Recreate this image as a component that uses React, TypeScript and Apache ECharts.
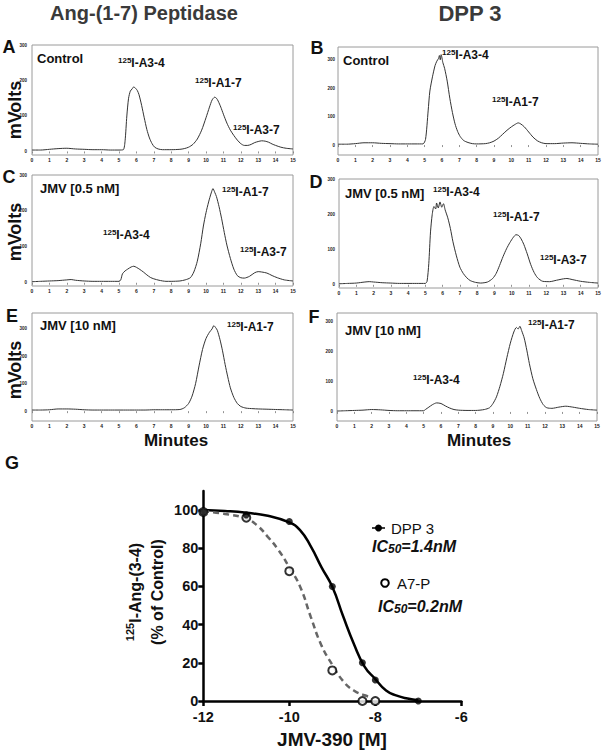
import React, { useEffect, useRef } from 'react';
import * as echarts from 'echarts';

// ---- Chromatogram traces: [minutes, mVolts] ----
const chromA = [[0,4],[0.5,4],[1,6],[1.5,8],[2,9],[2.5,7],[3,6],[3.5,5],[4,5],[4.5,4],[5,4],[5.25,5],[5.35,30],[5.45,100],[5.55,150],[5.65,170],[5.75,176],[5.85,182],[5.95,178],[6.05,172],[6.15,160],[6.3,130],[6.45,95],[6.6,62],[6.75,38],[6.9,22],[7.05,12],[7.25,7],[7.5,5],[8,5],[8.5,6],[8.75,8],[9,12],[9.25,20],[9.5,35],[9.75,60],[10,95],[10.2,125],[10.35,145],[10.5,153],[10.6,150],[10.7,142],[10.85,125],[11,105],[11.2,80],[11.4,60],[11.6,45],[11.8,32],[12,22],[12.2,17],[12.4,17],[12.6,20],[12.8,25],[13,28],[13.2,30],[13.4,29],[13.6,26],[13.8,21],[14,17],[14.3,12],[14.6,9],[15,7]];
const chromB = [[0,3],[0.5,3],[1,5],[1.5,8],[2,8],[2.5,6],[3,5],[3.5,4],[4,4],[4.5,4],[4.9,4],[5.05,20],[5.2,120],[5.3,190],[5.45,240],[5.6,280],[5.7,295],[5.8,305],[5.85,315],[5.9,300],[5.95,318],[6.05,290],[6.15,270],[6.3,225],[6.45,165],[6.6,115],[6.75,75],[6.9,48],[7.05,30],[7.25,16],[7.5,9],[7.75,5],[8,4],[8.5,5],[8.75,8],[9,14],[9.25,24],[9.5,38],[9.75,52],[10,64],[10.2,72],[10.4,78],[10.55,74],[10.75,64],[11,46],[11.25,28],[11.5,15],[11.75,8],[12,5],[12.5,5],[13,7],[13.5,8],[14,6],[14.5,4],[15,3]];
const chromC = [[0,3],[0.5,4],[1,5],[1.5,6],[2,8],[2.25,9],[2.5,7],[3,5],[3.5,4],[4,4],[4.5,4],[5,4],[5.1,8],[5.2,25],[5.35,33],[5.5,38],[5.7,44],[5.85,46],[6,43],[6.2,37],[6.4,30],[6.6,22],[6.8,15],[7,11],[7.3,7],[7.7,4],[8,4],[8.5,5],[8.8,8],[9.1,14],[9.3,30],[9.5,60],[9.7,110],[9.85,158],[10,195],[10.15,225],[10.3,250],[10.4,262],[10.5,252],[10.6,240],[10.75,212],[10.9,178],[11.05,140],[11.2,105],[11.4,68],[11.6,38],[11.8,20],[12,14],[12.2,13],[12.5,18],[12.8,28],[13,31],[13.2,30],[13.5,27],[13.8,20],[14.1,14],[14.5,8],[15,5]];
const chromD = [[0,3],[0.5,4],[1,5],[1.5,8],[1.75,9],[2,8],[2.5,6],[3,5],[3.5,4],[4,4],[4.5,4],[5,4],[5.1,10],[5.2,60],[5.3,150],[5.4,200],[5.5,222],[5.6,215],[5.65,232],[5.75,218],[5.85,235],[5.95,220],[6.05,230],[6.15,212],[6.3,190],[6.45,160],[6.6,122],[6.8,82],[7,50],[7.2,32],[7.4,20],[7.6,12],[7.9,7],[8.2,5],[8.6,8],[8.9,18],[9.1,32],[9.3,55],[9.5,80],[9.7,102],[9.9,120],[10.1,135],[10.25,142],[10.4,140],[10.55,130],[10.7,115],[10.9,88],[11.1,58],[11.3,35],[11.5,20],[11.8,10],[12.2,9],[12.6,13],[13,17],[13.2,18],[13.5,15],[14,10],[14.5,7],[15,5]];
const chromE = [[0,4],[0.5,4],[1,5],[1.5,8],[2,8],[2.5,7],[3,5],[3.5,4],[4,4],[4.5,4],[5,4],[5.5,4],[6,4],[6.5,4],[7,5],[7.5,5],[8,5],[8.5,6],[8.75,12],[9,28],[9.2,55],[9.4,100],[9.6,165],[9.8,225],[10,265],[10.2,288],[10.35,300],[10.45,312],[10.55,305],[10.65,295],[10.8,262],[10.95,220],[11.1,170],[11.25,125],[11.4,85],[11.6,50],[11.8,28],[12,17],[12.3,11],[12.7,9],[13,8],[13.5,7],[14,6],[14.5,5],[15,4]];
const chromF = [[0,3],[0.5,4],[1,5],[1.5,6],[2,8],[2.5,7],[3,5],[3.5,4],[4,4],[4.5,4],[5,4],[5.1,8],[5.3,16],[5.5,24],[5.75,30],[6,28],[6.25,20],[6.5,13],[6.75,8],[7,6],[7.5,5],[8,5],[8.5,8],[8.8,14],[9,28],[9.2,50],[9.4,85],[9.6,128],[9.8,180],[10,228],[10.2,265],[10.35,280],[10.45,275],[10.55,284],[10.65,270],[10.8,245],[10.95,205],[11.1,160],[11.3,110],[11.5,75],[11.7,45],[11.9,24],[12.1,14],[12.4,12],[12.8,16],[13.2,19],[13.6,16],[14,12],[14.5,8],[15,6]];
const chromYTicks = [0, 100, 200, 300];

// ---- Dose-response (panel G) ----
const dppCurveX = [-12,-11.5,-11,-10.5,-10,-9.75,-9.5,-9.25,-9,-8.75,-8.5,-8.25,-8,-7.75,-7.5,-7.25,-7];
const dppCurveY = [100,99.5,98.6,97,93.6,89.5,81,70,59.8,44.5,30,18,11.5,5.5,2.8,1.3,0.4];
const a7pCurveX = [-12,-11.5,-11,-10.75,-10.5,-10.25,-10,-9.75,-9.5,-9.25,-9,-8.75,-8.5,-8.25,-8.1];
const a7pCurveY = [99.5,98,95.5,92,86,79,70,60,44,29,19,10.5,5.5,3,2];
const dppPointX = [-12,-11,-10,-9,-8.3,-8,-7];
const dppPointY = [99,97.5,94,60,20,11,0];
const a7pPointX = [-12,-11,-10,-9,-8.3,-8];
const a7pPointY = [99,96,68,16,0,0];
const doseYTicks = [0,20,40,60,80,100];

const FONT = 'Arial, "Liberation Sans", Helvetica, sans-serif';
const zip = (xs: number[], ys: number[]) => xs.map((x, i) => [x, ys[i]]);

const panels = [
  { data: chromA, left: 32, top: 45, width: 261, height: 110, min: -10, max: 300, ylm: 5 },
  { data: chromB, left: 338, top: 47, width: 260, height: 108, min: -35, max: 345, ylm: 3 },
  { data: chromC, left: 32, top: 175, width: 261, height: 111, min: -9, max: 300, ylm: 5 },
  { data: chromD, left: 339, top: 179, width: 259, height: 109, min: -9, max: 300, ylm: 4 },
  { data: chromE, left: 32, top: 313, width: 261, height: 108, min: -36, max: 358, ylm: 5 },
  { data: chromF, left: 337, top: 313, width: 260, height: 108, min: -30, max: 328, ylm: 4 },
];

const peakRich = {
  s: { fontSize: 8, fontWeight: 'bold', fontFamily: FONT, fill: '#111', verticalAlign: 'top', lineHeight: 13 },
  m: { fontSize: 12, fontWeight: 'bold', fontFamily: FONT, fill: '#111', lineHeight: 13 },
};

function txt(x: number, y: number, text: string, o: any = {}) {
  const { rotation, align, ...rest } = o;
  const a = align || 'left';
  return {
    type: 'text', x, y, rotation: rotation || 0, z: 100,
    style: {
      text, fill: '#111', fontFamily: FONT, fontSize: 12, fontWeight: 'bold',
      align: a, textAlign: a, verticalAlign: 'middle', textVerticalAlign: 'middle',
      ...rest,
    },
  };
}
const peak = (x: number, y: number, name: string) => txt(x, y, `{s|125}{m|${name}}`, { rich: peakRich });

export default function App() {
  const ref = useRef<HTMLDivElement>(null);
  useEffect(() => {
    const chart = echarts.init(ref.current!, null, { renderer: 'svg' });
    const grid: any[] = [];
    const xAxis: any[] = [];
    const yAxis: any[] = [];
    const series: any[] = [];
    panels.forEach((p, i) => {
      grid.push({ left: p.left, top: p.top, width: p.width, height: p.height, show: true, borderColor: '#9a9a9a', borderWidth: 1, containLabel: false });
      xAxis.push({
        gridIndex: i, type: 'value', min: 0, max: 15, interval: 1,
        axisLine: { show: false }, splitLine: { show: false },
        axisTick: { show: true, length: 2, lineStyle: { color: '#777', width: 0.8 } },
        axisLabel: { fontSize: 5, fontWeight: 'bold', color: '#222', margin: 2, fontFamily: FONT },
      });
      yAxis.push({
        gridIndex: i, type: 'value', min: p.min, max: p.max,
        axisLine: { show: false }, splitLine: { show: false },
        axisTick: { show: false },
        axisLabel: { customValues: chromYTicks, fontSize: 4.5, fontWeight: 'bold', color: '#222', margin: p.ylm, fontFamily: FONT },
      });
      series.push({
        type: 'line', xAxisIndex: i, yAxisIndex: i, data: p.data, showSymbol: false, smooth: 0.25,
        lineStyle: { color: '#333', width: 1 }, silent: true,
      });
    });
    // panel G
    grid.push({ left: 203.3, top: 491, width: 258, height: 210, show: false });
    xAxis.push({
      gridIndex: 6, type: 'value', min: -12, max: -6, interval: 2,
      axisLine: { show: true, onZero: false, lineStyle: { color: '#000', width: 2.5 } },
      axisTick: { show: true, length: 5, lineStyle: { color: '#000', width: 2.5 } },
      splitLine: { show: false },
      axisLabel: { fontSize: 14.5, fontWeight: 'bold', color: '#111', margin: 8, fontFamily: FONT },
    });
    yAxis.push({
      gridIndex: 6, type: 'value', min: 0, max: 110,
      axisLine: { show: true, onZero: false, lineStyle: { color: '#000', width: 2.5 } },
      axisTick: { show: true, length: 5, customValues: doseYTicks, lineStyle: { color: '#000', width: 2.5 } },
      splitLine: { show: false },
      axisLabel: { customValues: doseYTicks, fontSize: 14.5, fontWeight: 'bold', color: '#111', margin: 5, fontFamily: FONT },
    });
    series.push(
      { type: 'line', xAxisIndex: 6, yAxisIndex: 6, data: zip(dppCurveX, dppCurveY), smooth: true, showSymbol: false, lineStyle: { color: '#000', width: 2.5 }, clip: false },
      { type: 'line', xAxisIndex: 6, yAxisIndex: 6, data: zip(a7pCurveX, a7pCurveY), smooth: true, showSymbol: false, lineStyle: { color: '#666', width: 2.5, type: [6, 4] }, clip: false },
      { type: 'scatter', xAxisIndex: 6, yAxisIndex: 6, data: zip(a7pPointX, a7pPointY), symbol: 'circle', symbolSize: 8, itemStyle: { color: '#fff', borderColor: '#000', borderWidth: 2 }, clip: false, z: 5 },
      { type: 'scatter', xAxisIndex: 6, yAxisIndex: 6, data: zip(dppPointX, dppPointY), symbol: 'circle', symbolSize: 7, itemStyle: { color: '#000' }, clip: false, z: 6 },
    );

    const subRich = {
      b: { fontSize: 16, fontWeight: 'bold', fontStyle: 'italic', fontFamily: FONT, fill: '#111', lineHeight: 18 },
      u: { fontSize: 12, fontWeight: 'bold', fontStyle: 'italic', fontFamily: FONT, fill: '#111', verticalAlign: 'bottom', lineHeight: 12 },
    };
    const yNameRich = {
      s: { fontSize: 11, fontWeight: 'bold', fontFamily: FONT, fill: '#111', verticalAlign: 'top', lineHeight: 22 },
      m: { fontSize: 16, fontWeight: 'bold', fontFamily: FONT, fill: '#111', lineHeight: 22 },
    };

    const graphic: any[] = [
      txt(144, 13, 'Ang-(1-7) Peptidase', { align: 'center', fontSize: 20, fill: '#3a3a3a' }),
      txt(470, 13, 'DPP 3', { align: 'center', fontSize: 22, fill: '#3a3a3a' }),
      txt(9, 47, 'A', { align: 'center', fontSize: 18 }),
      txt(317, 48, 'B', { align: 'center', fontSize: 18 }),
      txt(9, 177, 'C', { align: 'center', fontSize: 18 }),
      txt(316, 182, 'D', { align: 'center', fontSize: 18 }),
      txt(12, 316, 'E', { align: 'center', fontSize: 18 }),
      txt(314, 317, 'F', { align: 'center', fontSize: 18 }),
      txt(12, 463, 'G', { align: 'center', fontSize: 18 }),
      txt(15, 110, 'mVolts', { align: 'center', fontSize: 18, rotation: Math.PI / 2 }),
      txt(15, 232, 'mVolts', { align: 'center', fontSize: 18, rotation: Math.PI / 2 }),
      txt(15, 370, 'mVolts', { align: 'center', fontSize: 18, rotation: Math.PI / 2 }),
      txt(176, 440, 'Minutes', { align: 'center', fontSize: 17 }),
      txt(479, 440, 'Minutes', { align: 'center', fontSize: 17 }),
      // panel texts
      txt(37, 58, 'Control', { fontSize: 13 }),
      peak(118, 63, 'I-A3-4'), peak(195, 83, 'I-A1-7'), peak(233, 130, 'I-A3-7'),
      txt(343, 60, 'Control', { fontSize: 13 }),
      peak(442, 55, 'I-A3-4'), peak(492, 102, 'I-A1-7'),
      txt(40, 188, 'JMV [0.5 nM]', { fontSize: 13 }),
      peak(103, 235, 'I-A3-4'), peak(222, 192, 'I-A1-7'), peak(240, 252, 'I-A3-7'),
      txt(345, 193, 'JMV [0.5 nM]', { fontSize: 13 }),
      peak(433, 192, 'I-A3-4'), peak(493, 217, 'I-A1-7'), peak(540, 260, 'I-A3-7'),
      txt(40, 325, 'JMV [10 nM]', { fontSize: 13 }),
      peak(227, 327, 'I-A1-7'),
      txt(345, 330, 'JMV [10 nM]', { fontSize: 13 }),
      peak(413, 380, 'I-A3-4'), peak(528, 325, 'I-A1-7'),
      // panel G labels
      txt(332, 739, 'JMV-390 [M]', { align: 'center', fontSize: 19 }),
      txt(146.5, 592, '{s|125}{m|I-Ang-(3-4)}\n{m|(% of Control)}', { align: 'center', rotation: Math.PI / 2, rich: yNameRich }),
      // legend
      { type: 'line', shape: { x1: 372, y1: 528, x2: 385, y2: 528 }, style: { stroke: '#000', lineWidth: 1.5 }, z: 100 },
      { type: 'circle', shape: { cx: 378.5, cy: 528, r: 3.5 }, style: { fill: '#000' }, z: 101 },
      txt(391, 528, 'DPP 3', { fontSize: 15, fontWeight: 'normal' }),
      txt(372, 546, '{b|IC}{u|50}{b|=1.4nM}', { rich: subRich }),
      { type: 'circle', shape: { cx: 385, cy: 583, r: 3.8 }, style: { fill: '#fff', stroke: '#000', lineWidth: 2 }, z: 101 },
      txt(397, 583, 'A7-P', { fontSize: 15, fontWeight: 'normal' }),
      txt(378, 606, '{b|IC}{u|50}{b|=0.2nM}', { rich: subRich }),
    ];

    chart.setOption({
      animation: false,
      backgroundColor: '#fff',
      textStyle: { fontFamily: FONT },
      grid, xAxis, yAxis, series, graphic,
    });
    return () => chart.dispose();
  }, []);
  return <div ref={ref} style={{ position: 'absolute', left: 0, top: 0, width: 605, height: 755, background: '#fff' }} />;
}
